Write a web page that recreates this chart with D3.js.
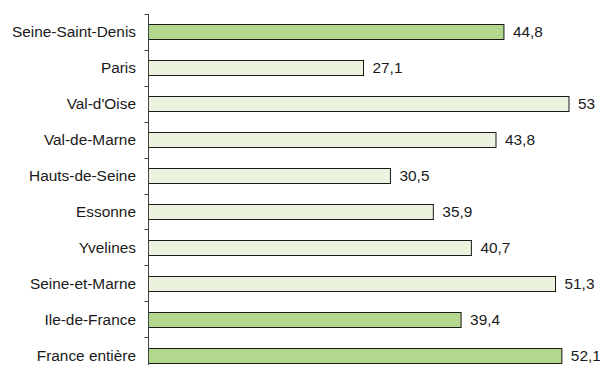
<!DOCTYPE html>
<html>
<head>
<meta charset="utf-8">
<script src="https://cdn.jsdelivr.net/npm/d3@7"></script>
<style>
  html, body { margin: 0; padding: 0; background: #fff; }
  svg { display: block; }
  text { font-family: "Liberation Sans", Arial, sans-serif; font-size: 15.4px; fill: #1a1a1a; }
</style>
</head>
<body>
<svg id="chart" width="600" height="365"></svg>
<script>
// Départements, top to bottom
const categories = [
  "Seine-Saint-Denis", "Paris", "Val-d'Oise", "Val-de-Marne", "Hauts-de-Seine",
  "Essonne", "Yvelines", "Seine-et-Marne", "Ile-de-France", "France entière"
];
const values = [44.8, 27.1, 53, 43.8, 30.5, 35.9, 40.7, 51.3, 39.4, 52.1];
const valueLabels = ["44,8", "27,1", "53", "43,8", "30,5", "35,9", "40,7", "51,3", "39,4", "52,1"];
// Highlighted rows (darker fill)
const highlighted = ["Seine-Saint-Denis", "Ile-de-France", "France entière"];

const svg = d3.select("#chart");
const x0 = 148.5;

const x = d3.scaleLinear().domain([0, 53]).range([x0, 569]);
const y = d3.scaleBand().domain(categories).range([14, 373]).paddingInner(0.58).paddingOuter(0.29);

const rows = categories.map((c, i) => ({ cat: c, value: values[i], label: valueLabels[i] }));

// Bars
svg.append("g").selectAll("rect").data(rows).join("rect")
  .attr("x", x(0))
  .attr("y", d => Math.round(y(d.cat)) + 0.5)
  .attr("width", d => x(d.value) - x(0))
  .attr("height", Math.round(y.bandwidth()))
  .attr("fill", d => highlighted.includes(d.cat) ? "#b3d78e" : "#ebf2de")
  .attr("stroke", "#1a1a1a")
  .attr("stroke-width", 1);

// Value labels
svg.append("g").selectAll("text").data(rows).join("text")
  .attr("x", d => x(d.value) + 9)
  .attr("y", d => y(d.cat) + y.bandwidth() / 2)
  .attr("dy", "0.36em")
  .text(d => d.label);

// Category axis with ticks between bands
const axisG = svg.append("g");
axisG.append("line")
  .attr("x1", x0).attr("x2", x0)
  .attr("y1", 14).attr("y2", 373)
  .attr("stroke", "#404040");
const boundaries = d3.range(categories.length + 1).map(i => 14 + i * (373 - 14) / categories.length);
axisG.selectAll("line.tick").data(boundaries).join("line")
  .attr("class", "tick")
  .attr("x1", x0 - 4).attr("x2", x0)
  .attr("y1", d => Math.round(d) + 0.5).attr("y2", d => Math.round(d) + 0.5)
  .attr("stroke", "#404040");

axisG.selectAll("text").data(categories).join("text")
  .attr("x", 136)
  .attr("y", d => y(d) + y.bandwidth() / 2)
  .attr("dy", "0.36em")
  .attr("text-anchor", "end")
  .text(d => d);
</script>
</body>
</html>
